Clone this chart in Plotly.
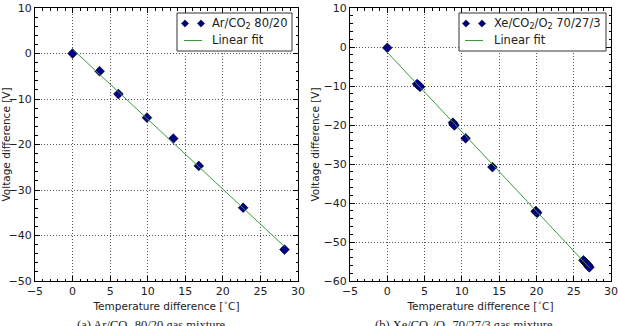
import numpy as np
import plotly.graph_objects as go

# ---- data ----
ar_temp = [0.0, 3.6, 6.1, 9.9, 13.4, 16.8, 22.7, 28.2]
ar_volt = [0.0, -3.9, -8.9, -14.1, -18.7, -24.7, -33.9, -43.1]

xe_temp = [0.0, 4.0, 4.2, 4.4, 8.8, 8.9, 9.0, 10.5, 14.1, 19.9, 20.0, 20.1,
           26.3, 26.5, 26.7, 26.9, 27.0, 27.1]
xe_volt = [-0.2, -9.5, -9.8, -10.2, -19.4, -19.8, -20.1, -23.4, -30.8, -42.1, -42.3, -42.5,
           -54.7, -55.1, -55.5, -55.9, -56.2, -56.5]

ar_label = "Ar/CO<sub>2</sub> 80/20"
xe_label = "Xe/CO<sub>2</sub>/O<sub>2</sub> 70/27/3"
fit_label = "Linear fit"
cap_a = "(a) Ar/CO<sub>2</sub> 80/20 gas mixture"
cap_b = "(b) Xe/CO<sub>2</sub>/O<sub>2</sub> 70/27/3 gas mixture"

W, H = 618, 326
MARK = "#00008b"
GREEN = "#3a9a3a"
TXT = "#222222"

def fit_line(x, y):
    x = np.asarray(x); y = np.asarray(y)
    k, b = np.polyfit(x, y, 1)
    xs = np.array([x.min(), x.max()])
    return xs, k * xs + b

fig = go.Figure()

for i, (tx, vy) in enumerate([(ar_temp, ar_volt), (xe_temp, xe_volt)]):
    xa = "x" if i == 0 else "x2"
    ya = "y" if i == 0 else "y2"
    fig.add_trace(go.Scatter(x=tx, y=vy, mode="markers", xaxis=xa, yaxis=ya,
                             marker=dict(symbol="diamond", size=7.5, color=MARK,
                                         line=dict(color="black", width=0.6)),
                             showlegend=False))
    fx, fy = fit_line(tx, vy)
    fig.add_trace(go.Scatter(x=fx, y=fy, mode="lines", xaxis=xa, yaxis=ya,
                             line=dict(color=GREEN, width=1), showlegend=False))

def px_x(p):
    return p / W

def px_y(p):
    return (H - p) / H

ydom = [px_y(281), px_y(8)]
axis_common = dict(showline=True, linecolor="black", linewidth=1, mirror="allticks",
                   ticks="inside", ticklen=5, tickcolor="black", tickwidth=1,
                   showgrid=True, gridcolor="#555555", griddash="1px,2px", gridwidth=1,
                   zeroline=False, automargin=False,
                   tickfont=dict(family="DejaVu Sans", size=11, color=TXT),
                   title_font=dict(family="DejaVu Sans", size=10.5, color=TXT))

fig.update_layout(
    xaxis=dict(domain=[px_x(35), px_x(298)], range=[-5, 30], dtick=5, anchor="y",
               minor=dict(dtick=1, ticks="inside", ticklen=2.5, tickcolor="black"),
               title=dict(text="Temperature difference [<sup>∘</sup>C]", standoff=1), **axis_common),
    yaxis=dict(domain=ydom, range=[-50, 10], dtick=10, anchor="x",
               minor=dict(dtick=2, ticks="inside", ticklen=2.5, tickcolor="black"),
               title=dict(text="Voltage difference [V]", standoff=1), **axis_common),
    xaxis2=dict(domain=[px_x(350), px_x(611)], range=[-5, 30], dtick=5, anchor="y2",
                minor=dict(dtick=1, ticks="inside", ticklen=2.5, tickcolor="black"),
                title=dict(text="Temperature difference [<sup>∘</sup>C]", standoff=1), **axis_common),
    yaxis2=dict(domain=ydom, range=[-60, 10], dtick=10, anchor="x2",
                minor=dict(dtick=2, ticks="inside", ticklen=2.5, tickcolor="black"),
                title=dict(text="Voltage difference [V]", standoff=1), **axis_common),
    width=W, height=H, margin=dict(l=0, r=0, t=0, b=0),
    paper_bgcolor="white", plot_bgcolor="white", showlegend=False,
)

shapes = []
annotations = []

def add_legend(x0, x1, y0, y1, mk1, mk2, text_x, label):
    shapes.append(dict(type="rect", xref="paper", yref="paper",
                       x0=px_x(x0), x1=px_x(x1), y0=px_y(y1), y1=px_y(y0),
                       line=dict(color="#333333", width=1), fillcolor="white"))
    for mx in (mk1, mk2):
        shapes.append(dict(type="path", xref="paper", yref="paper",
                           xsizemode="pixel", ysizemode="pixel",
                           xanchor=px_x(mx), yanchor=px_y(23.5),
                           path="M 0,3.6 L 3.6,0 L 0,-3.6 L -3.6,0 Z",
                           fillcolor=MARK, line=dict(color="black", width=0.6)))
    shapes.append(dict(type="line", xref="paper", yref="paper",
                       x0=px_x(mk1 - 1), x1=px_x(mk2 + 1), y0=px_y(40.5), y1=px_y(40.5),
                       line=dict(color=GREEN, width=1)))
    annotations.append(dict(xref="paper", yref="paper", x=px_x(text_x), y=px_y(23.5),
                            xanchor="left", yanchor="middle", showarrow=False, text=label,
                            font=dict(family="DejaVu Sans", size=11.5, color=TXT)))
    annotations.append(dict(xref="paper", yref="paper", x=px_x(text_x), y=px_y(40.5),
                            xanchor="left", yanchor="middle", showarrow=False, text=fit_label,
                            font=dict(family="DejaVu Sans", size=11.5, color=TXT)))

add_legend(177, 292, 13, 51, 185, 201, 210, ar_label)
add_legend(459, 606, 13, 51, 466, 482, 492, xe_label)

annotations.append(dict(xref="paper", yref="paper", x=px_x(151), y=px_y(316),
                        xanchor="center", yanchor="top", showarrow=False, text=cap_a,
                        font=dict(family="Liberation Serif", size=12.5, color=TXT)))
annotations.append(dict(xref="paper", yref="paper", x=px_x(464), y=px_y(316),
                        xanchor="center", yanchor="top", showarrow=False, text=cap_b,
                        font=dict(family="Liberation Serif", size=12.5, color=TXT)))

fig.update_layout(shapes=shapes, annotations=annotations)
fig.write_html("out.html")
